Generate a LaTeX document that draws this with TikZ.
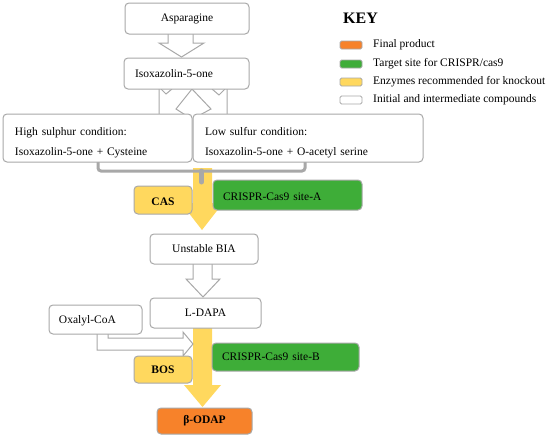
\documentclass[tikz,border=0pt]{standalone}
\usepackage{fontspec}
\setmainfont{Liberation Serif}
\definecolor{bordergray}{HTML}{A8A8A8}
\definecolor{ylw}{HTML}{FFD85E}
\definecolor{grn}{HTML}{3EAD38}
\definecolor{org}{HTML}{F7822A}
\tikzset{
  box/.style={draw=bordergray, line width=1pt, rounded corners=4pt, fill=white,
     font=\fontsize{11.5}{14}\selectfont, inner sep=0pt},
  lbox/.style={box, align=left, inner xsep=#1},
  hollow/.style={draw=bordergray, line width=1pt, fill=white, line join=miter},
  yarrow/.style={fill=ylw, draw=none},
  swatch/.style={draw=bordergray, line width=0.8pt, rounded corners=1.5pt, minimum width=22pt, minimum height=8pt, inner sep=0pt},
  keytext/.style={anchor=west, font=\fontsize{11.5}{14}\selectfont, inner sep=0pt},
}
\begin{document}
\begin{tikzpicture}[x=1pt, y=-1pt]
\useasboundingbox (0,0) rectangle (550,439);

% ---- yellow arrows (behind boxes)
\fill[yarrow] (193,168) -- (193,203) -- (181,203) -- (202,230) -- (223,203) -- (212,203) -- (212,168) -- cycle;
\fill[yarrow] (193,326) -- (193,385) -- (184,385) -- (202.5,407) -- (221,385) -- (212,385) -- (212,326) -- cycle;

% ---- bracket joining the two conditions
\draw[bordergray, line width=3pt, rounded corners=3pt] (98,158) -- (98,171) -- (305,171) -- (305,158);
\draw[bordergray, line width=5pt, line cap=round] (201.5,171) -- (201.5,182);

% ---- hollow arrows
\draw[hollow] (168,33) -- (168,43) -- (159,43) -- (181.5,57) -- (204,43) -- (193,43) -- (193,33);
\draw[hollow] (193,263) -- (193,279) -- (186,279) -- (203,297) -- (220,279) -- (212,279) -- (212,263);
\draw[hollow] (97,333) -- (97,350) -- (183,350) -- (183,356) -- (193,344) -- (183,332) -- (183,338) -- (108,338) -- (108,333);

% ---- split arrows under Isoxazolin-5-one
\draw[bordergray, line width=1pt, line join=miter]
  (159,88) -- (159,115)
  (161,89) -- (166,94) -- (172,89)
  (192,89) -- (176,109) -- (187,116)
  (192,89) -- (211,109) -- (198,116)
  (212,89) -- (219,95) -- (225,89)
  (227,88) -- (227,115);

% ---- compound boxes
\node[box, minimum width=124pt, minimum height=31pt] (asp) at (187,18.5) {Asparagine};
\node[lbox=11pt, text width=103pt, minimum height=31pt] (isox) at (186.5,73.5) {Isoxazolin-5-one};
\node[lbox=12pt, text width=165pt, minimum height=48pt, font=\fontsize{11.5}{20}\selectfont] (high) at (97.5,138)
  {\rule{0pt}{17pt}High sulphur condition:\\Isoxazolin-5-one + Cysteine};
\node[lbox=12pt, text width=206pt, minimum height=48pt, font=\fontsize{11.5}{20}\selectfont] (low) at (308,138)
  {\rule{0pt}{17pt}Low sulfur condition:\\Isoxazolin-5-one + O-acetyl serine};

\node[box, fill=ylw, minimum width=58pt, minimum height=28pt, font=\fontsize{11.5}{14}\selectfont\bfseries] (cas) at (163,200) {\rule{0pt}{12pt}CAS};
\node[lbox=10pt, fill=grn, text width=129pt, minimum height=30pt] (siteA) at (287.5,195) {\rule{0pt}{12pt}CRISPR-Cas9 site-A};

\node[box, minimum width=108pt, minimum height=30pt] (bia) at (204,249) {Unstable BIA};
\node[box, minimum width=111pt, minimum height=30pt] (ldapa) at (205.5,313) {L-DAPA};
\node[lbox=10pt, text width=73pt, minimum height=29pt] (oxa) at (95.5,319.5) {\rule{0pt}{11pt}Oxalyl-CoA};

\node[lbox=10pt, fill=grn, text width=127pt, minimum height=28pt] (siteB) at (285.5,357) {CRISPR-Cas9 site-B};
\node[box, fill=ylw, minimum width=58pt, minimum height=27pt, font=\fontsize{11.5}{14}\selectfont\bfseries] (bos) at (163,369.5) {BOS};
\node[box, fill=org, minimum width=95pt, minimum height=26pt, font=\fontsize{11.5}{14}\selectfont\bfseries] (odap) at (204.5,421) {β-ODAP};

% ---- key
\node[font=\fontsize{16}{18}\selectfont\bfseries, inner sep=0pt] (key) at (360.5,18) {KEY};
\node[swatch, fill=org] (k1) at (351,45) {};
\node[swatch, fill=grn] (k2) at (351,64) {};
\node[swatch, fill=ylw] (k3) at (351,82) {};
\node[swatch, fill=white] (k4) at (351,100) {};
\node[keytext] (t1) at (373,45) {Final product};
\node[keytext] (t2) at (373,64) {Target site for CRISPR/cas9};
\node[keytext] (t3) at (373,82) {Enzymes recommended for knockout};
\node[keytext] (t4) at (373,100) {Initial and intermediate compounds};
\end{tikzpicture}
\end{document}
